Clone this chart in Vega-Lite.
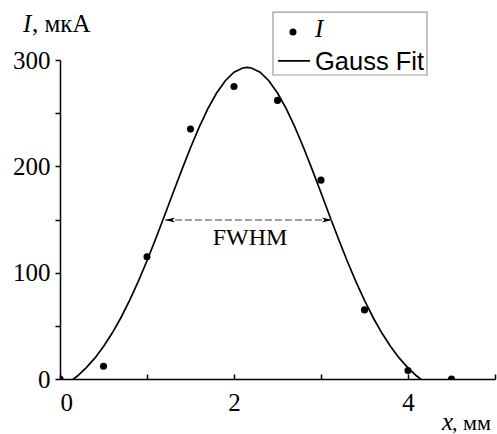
{
  "$schema": "https://vega.github.io/schema/vega-lite/v6.json",
  "width": 435,
  "height": 319,
  "autosize": {"type": "none"},
  "padding": {"left": 60, "top": 60, "right": 2, "bottom": 55},
  "background": "white",
  "config": {
    "view": {"stroke": null}
  },
  "datasets": {
    "points": [
      {"x": 0, "I": 0},
      {"x": 0.5, "I": 12},
      {"x": 1, "I": 115},
      {"x": 1.5, "I": 235},
      {"x": 2, "I": 275},
      {"x": 2.5, "I": 262},
      {"x": 3, "I": 187},
      {"x": 3.5, "I": 65},
      {"x": 4, "I": 8},
      {"x": 4.5, "I": 0}
    ],
    "curve": [
      {"x": 0.1, "fit": -3.5},
      {"x": 0.2, "fit": 2.8},
      {"x": 0.3, "fit": 10.5},
      {"x": 0.4, "fit": 19.6},
      {"x": 0.5, "fit": 30.5},
      {"x": 0.6, "fit": 43.2},
      {"x": 0.7, "fit": 57.6},
      {"x": 0.8, "fit": 73.9},
      {"x": 0.9, "fit": 91.8},
      {"x": 1.0, "fit": 111.2},
      {"x": 1.1, "fit": 131.9},
      {"x": 1.2, "fit": 153.3},
      {"x": 1.3, "fit": 175.1},
      {"x": 1.4, "fit": 196.7},
      {"x": 1.5, "fit": 217.5},
      {"x": 1.6, "fit": 236.9},
      {"x": 1.7, "fit": 254.3},
      {"x": 1.8, "fit": 269.0},
      {"x": 1.9, "fit": 280.5},
      {"x": 2.0, "fit": 288.5},
      {"x": 2.1, "fit": 292.5},
      {"x": 2.15, "fit": 293.0},
      {"x": 2.2, "fit": 292.5},
      {"x": 2.3, "fit": 288.5},
      {"x": 2.4, "fit": 280.5},
      {"x": 2.5, "fit": 269.0},
      {"x": 2.6, "fit": 254.3},
      {"x": 2.7, "fit": 236.9},
      {"x": 2.8, "fit": 217.5},
      {"x": 2.9, "fit": 196.7},
      {"x": 3.0, "fit": 175.1},
      {"x": 3.1, "fit": 153.3},
      {"x": 3.2, "fit": 131.9},
      {"x": 3.3, "fit": 111.2},
      {"x": 3.4, "fit": 91.8},
      {"x": 3.5, "fit": 73.9},
      {"x": 3.6, "fit": 57.6},
      {"x": 3.7, "fit": 43.2},
      {"x": 3.8, "fit": 30.5},
      {"x": 3.9, "fit": 19.6},
      {"x": 4.0, "fit": 10.5},
      {"x": 4.1, "fit": 2.8},
      {"x": 4.2, "fit": -3.5}
    ]
  },
  "layer": [
    {
      "data": {"name": "curve"},
      "mark": {"type": "line", "color": "black", "strokeWidth": 1.7, "clip": true},
      "encoding": {
        "x": {
          "field": "x",
          "type": "quantitative",
          "scale": {"domain": [0, 5], "nice": false, "zero": false},
          "axis": {
            "title": null,
            "grid": false,
            "format": "d",
            "domainColor": "black",
            "domainWidth": 1.5,
            "tickColor": "black",
            "tickWidth": 1.5,
            "labelFont": "Liberation Serif",
            "labelFontSize": 25,
            "labelColor": "black",
            "values": [0, 1, 2, 3, 4, 5],
            "labelExpr": "datum.value % 2 == 0 ? datum.label : ''",
            "tickSize": -5,
            "labelPadding": 16,
            "labelBaseline": "top"
          }
        },
        "y": {
          "field": "fit",
          "type": "quantitative",
          "scale": {"domain": [0, 300], "nice": false},
          "axis": {
            "title": null,
            "grid": false,
            "format": "d",
            "domainColor": "black",
            "domainWidth": 1.5,
            "tickColor": "black",
            "tickWidth": 1.5,
            "labelFont": "Liberation Serif",
            "labelFontSize": 25,
            "labelColor": "black",
            "values": [0, 50, 100, 150, 200, 250, 300],
            "labelExpr": "datum.value % 100 == 0 ? datum.label : ''",
            "tickSize": 5,
            "labelPadding": 5
          }
        }
      }
    },
    {
      "data": {"name": "points"},
      "mark": {"type": "point", "filled": true, "color": "black", "size": 50, "opacity": 1, "clip": true},
      "encoding": {
        "x": {"field": "x", "type": "quantitative"},
        "y": {"field": "I", "type": "quantitative"}
      }
    },
    {
      "data": {"values": [{}]},
      "mark": {"type": "rule", "color": "#808080", "strokeWidth": 1.5, "strokeDash": [7, 3]},
      "encoding": {
        "x": {"datum": 1.207, "type": "quantitative"},
        "x2": {"datum": 3.126},
        "y": {"datum": 149.5, "type": "quantitative"}
      }
    },
    {
      "data": {"values": [{}]},
      "mark": {"type": "point", "filled": true, "color": "black", "opacity": 1, "size": 100, "shape": "M-1,0L1,-0.5L0.5,0L1,0.5Z"},
      "encoding": {
        "x": {"datum": 1.265, "type": "quantitative"},
        "y": {"datum": 149.5, "type": "quantitative"}
      }
    },
    {
      "data": {"values": [{}]},
      "mark": {"type": "point", "filled": true, "color": "black", "opacity": 1, "size": 100, "shape": "M1,0L-1,-0.5L-0.5,0L-1,0.5Z"},
      "encoding": {
        "x": {"datum": 3.069, "type": "quantitative"},
        "y": {"datum": 149.5, "type": "quantitative"}
      }
    },
    {
      "data": {"values": [{}]},
      "mark": {"type": "text", "font": "Liberation Serif", "fontSize": 24, "color": "black", "align": "center", "baseline": "alphabetic"},
      "encoding": {
        "x": {"datum": 2.184, "type": "quantitative"},
        "y": {"datum": 126, "type": "quantitative"},
        "text": {"value": "FWHM"}
      }
    },
    {
      "data": {"values": [{}]},
      "mark": {"type": "rect", "fill": "white", "stroke": "#999999", "strokeWidth": 1.2, "clip": false},
      "encoding": {
        "x": {"datum": 2.448, "type": "quantitative"},
        "x2": {"datum": 4.218},
        "y": {"datum": 345.1, "type": "quantitative"},
        "y2": {"datum": 285.9}
      }
    },
    {
      "data": {"values": [{}]},
      "mark": {"type": "point", "filled": true, "color": "black", "size": 50, "opacity": 1},
      "encoding": {
        "x": {"datum": 2.678, "type": "quantitative"},
        "y": {"datum": 326.3, "type": "quantitative"}
      }
    },
    {
      "data": {"values": [{}]},
      "mark": {"type": "rule", "color": "black", "strokeWidth": 1.7},
      "encoding": {
        "x": {"datum": 2.506, "type": "quantitative"},
        "x2": {"datum": 2.874},
        "y": {"datum": 299.1, "type": "quantitative"}
      }
    },
    {
      "data": {"values": [{}]},
      "mark": {"type": "text", "font": "Liberation Serif", "fontStyle": "italic", "fontSize": 25, "color": "black", "align": "left", "baseline": "alphabetic"},
      "encoding": {
        "x": {"datum": 2.931, "type": "quantitative"},
        "y": {"datum": 321.6, "type": "quantitative"},
        "text": {"value": "I"}
      }
    },
    {
      "data": {"values": [{}]},
      "mark": {"type": "text", "font": "Liberation Sans", "fontSize": 25.5, "color": "black", "align": "left", "baseline": "alphabetic"},
      "encoding": {
        "x": {"datum": 2.931, "type": "quantitative"},
        "y": {"datum": 290.4, "type": "quantitative"},
        "text": {"value": "Gauss Fit"}
      }
    },
    {
      "data": {"values": [{}]},
      "mark": {"type": "text", "font": "Liberation Serif", "fontStyle": "italic", "fontSize": 25, "color": "black", "align": "left", "baseline": "alphabetic"},
      "encoding": {
        "x": {"datum": -0.425, "type": "quantitative"},
        "y": {"datum": 326.3, "type": "quantitative"},
        "text": {"value": "I"}
      }
    },
    {
      "data": {"values": [{}]},
      "mark": {"type": "text", "font": "Liberation Serif", "fontSize": 25, "color": "black", "align": "left", "baseline": "alphabetic"},
      "encoding": {
        "x": {"datum": -0.322, "type": "quantitative"},
        "y": {"datum": 326.3, "type": "quantitative"},
        "text": {"value": ", мкА"}
      }
    },
    {
      "data": {"values": [{}]},
      "mark": {"type": "text", "font": "Liberation Serif", "fontStyle": "italic", "fontSize": 25, "color": "black", "align": "left", "baseline": "alphabetic"},
      "encoding": {
        "x": {"datum": 4.39, "type": "quantitative"},
        "y": {"datum": -48, "type": "quantitative"},
        "text": {"value": "x"}
      }
    },
    {
      "data": {"values": [{}]},
      "mark": {"type": "text", "font": "Liberation Serif", "fontSize": 22, "color": "black", "align": "left", "baseline": "alphabetic"},
      "encoding": {
        "x": {"datum": 4.506, "type": "quantitative"},
        "y": {"datum": -48, "type": "quantitative"},
        "text": {"value": ", мм"}
      }
    }
  ]
}
